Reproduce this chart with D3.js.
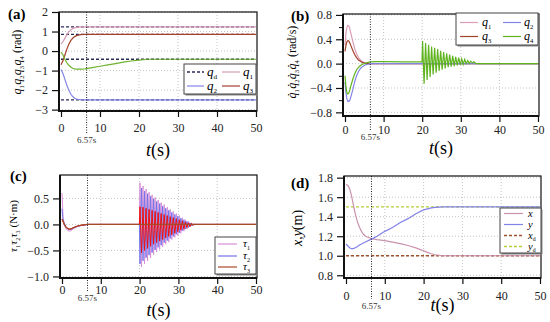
<!DOCTYPE html>
<html>
<head>
<meta charset="utf-8">
<script src="https://cdn.jsdelivr.net/npm/d3@7"></script>
<style>
  body { margin: 0; background: #fff; }
  svg { display: block; font-family: "Liberation Serif", "Times New Roman", serif; }
</style>
</head>
<body>
<script>
// ---- data ----
const xTicks = [0, 10, 20, 30, 40, 50];
const tMark = 6.57;

// (a) joint angles
const tA = [0, 0.5, 1, 1.5, 2, 2.5, 3, 3.5, 4, 4.5, 5, 6, 6.57, 8, 10, 12, 14, 16, 18, 20, 22, 25, 30, 40, 50];
const q1 = [0.35, 0.48, 0.66, 0.84, 0.98, 1.08, 1.15, 1.19, 1.21, 1.23, 1.24, 1.24, 1.24, 1.24, 1.24, 1.24, 1.24, 1.24, 1.24, 1.24, 1.24, 1.24, 1.24, 1.24, 1.24];
const q2 = [-0.95, -1.15, -1.45, -1.75, -2.0, -2.2, -2.33, -2.42, -2.46, -2.48, -2.49, -2.5, -2.5, -2.5, -2.5, -2.5, -2.5, -2.5, -2.5, -2.5, -2.5, -2.5, -2.5, -2.5, -2.5];
const q3 = [-0.7, -0.5, -0.2, 0.1, 0.35, 0.53, 0.66, 0.74, 0.79, 0.82, 0.84, 0.85, 0.85, 0.85, 0.85, 0.85, 0.85, 0.85, 0.85, 0.85, 0.85, 0.85, 0.85, 0.85, 0.85];
const q4 = [-0.05, -0.2, -0.42, -0.6, -0.73, -0.82, -0.88, -0.91, -0.93, -0.93, -0.93, -0.92, -0.9, -0.85, -0.78, -0.71, -0.64, -0.57, -0.51, -0.46, -0.42, -0.42, -0.42, -0.42, -0.42];
const qd = [1.24, 0.85, -0.42, -2.5];
const yTicksA = [2, 1, 0, -1, -2, -3];

// (b) joint velocities
const tB = [0, 0.25, 0.5, 0.75, 1, 1.25, 1.5, 2, 2.5, 3, 3.5, 4, 4.5, 5, 5.5, 6, 6.57, 8, 10, 15, 19.95];
const dq1 = [0.3, 0.5, 0.6, 0.63, 0.62, 0.57, 0.5, 0.37, 0.25, 0.16, 0.1, 0.06, 0.03, 0.02, 0.01, 0.005, 0, 0, 0, 0, 0];
const dq2 = [-0.3, -0.48, -0.58, -0.62, -0.62, -0.6, -0.55, -0.43, -0.3, -0.2, -0.13, -0.08, -0.05, -0.03, -0.015, -0.01, 0, 0, 0, 0, 0];
const dq3 = [0.2, 0.3, 0.36, 0.38, 0.37, 0.34, 0.3, 0.22, 0.15, 0.1, 0.06, 0.04, 0.02, 0.01, 0.005, 0, 0, 0, 0, 0, 0];
const dq4 = [-0.2, -0.38, -0.48, -0.5, -0.48, -0.43, -0.37, -0.26, -0.17, -0.1, -0.06, -0.03, -0.01, 0, 0.01, 0.02, 0.03, 0.033, 0.033, 0.03, 0.03];
// q4 oscillation extremes after t = 20
const dq4Osc = [0.37, -0.33, 0.34, -0.27, 0.31, -0.22, 0.28, -0.18, 0.26, -0.15, 0.24, -0.12, 0.21, -0.10, 0.19, -0.08, 0.17, -0.06,
                0.15, -0.05, 0.13, -0.04, 0.11, -0.03, 0.10, -0.02, 0.08, -0.01, 0.07, 0.00, 0.05, 0.00, 0.04, 0.01, 0.03, 0.01];
const yTicksB = [0.8, 0.4, 0.0, -0.4, -0.8];

// (c) joint torques
const tC = [0, 0.15, 0.3, 0.6, 1, 1.5, 2, 2.5, 3, 4, 5, 6, 6.57, 19.95];
const tau1 = [0.6, 0.35, 0.12, 0.0, -0.08, -0.12, -0.13, -0.11, -0.08, -0.04, -0.02, -0.01, 0, 0];
const tau2 = [0.3, 0.15, 0.08, 0.02, -0.05, -0.09, -0.1, -0.09, -0.07, -0.04, -0.02, -0.01, 0, 0];
const tau3 = [0.1, 0.08, 0.05, 0.0, -0.05, -0.08, -0.09, -0.08, -0.06, -0.03, -0.015, -0.005, 0, 0];
const tau1Osc = [0.80, -0.82, 0.74, -0.76, 0.68, -0.70, 0.62, -0.64, 0.57, -0.58, 0.52, -0.53, 0.47, -0.48, 0.42, -0.43, 0.38, -0.38,
                 0.33, -0.34, 0.29, -0.29, 0.25, -0.25, 0.21, -0.21, 0.17, -0.17, 0.13, -0.13, 0.09, -0.09, 0.06, -0.05, 0.03, -0.02];
const tau2Osc = [-0.76, 0.70, -0.70, 0.64, -0.64, 0.59, -0.59, 0.54, -0.54, 0.49, -0.49, 0.44, -0.44, 0.40, -0.40, 0.35, -0.35, 0.31,
                 -0.31, 0.27, -0.27, 0.23, -0.23, 0.19, -0.19, 0.16, -0.16, 0.12, -0.12, 0.09, -0.09, 0.06, -0.06, 0.03, -0.03, 0.01];
const tau3Osc = [0.34, -0.55, 0.33, -0.50, 0.31, -0.46, 0.29, -0.42, 0.27, -0.38, 0.25, -0.35, 0.23, -0.32, 0.21, -0.29, 0.19, -0.26,
                 0.17, -0.23, 0.15, -0.20, 0.13, -0.17, 0.11, -0.14, 0.09, -0.11, 0.07, -0.09, 0.05, -0.06, 0.03, -0.04, 0.02, -0.02];
const yTicksC = [0.5, 0.0, -0.5, -1.0];

// (d) end-effector position
const tD = [0, 0.5, 1, 1.5, 2, 2.5, 3, 3.5, 4, 4.5, 5, 6, 6.57, 8, 10, 12, 14, 16, 18, 20, 21, 22, 23, 25, 30, 50];
const xPos = [1.73, 1.72, 1.68, 1.6, 1.5, 1.41, 1.34, 1.29, 1.25, 1.22, 1.2, 1.185, 1.175, 1.165, 1.155, 1.14, 1.125, 1.105, 1.08, 1.05, 1.035, 1.02, 1.01, 1.0, 1.0, 1.0];
const yPos = [1.12, 1.1, 1.08, 1.07, 1.075, 1.085, 1.095, 1.11, 1.12, 1.13, 1.14, 1.16, 1.17, 1.2, 1.25, 1.29, 1.34, 1.38, 1.43, 1.47, 1.48, 1.49, 1.495, 1.5, 1.5, 1.5];
const xd = 1.0, yd = 1.5;
const yTicksD = [1.8, 1.6, 1.4, 1.2, 1.0, 0.8];

const oscStart = 20.1, oscStep = 0.39, oscEnd = 34.0;

// ---- drawing ----
const svg = d3.select("body").append("svg").attr("width", 550).attr("height", 322);
const defs = svg.append("defs");

// build [t, v] pairs; oscillation extremes are placed one half period apart
function series(ts, vs, osc) {
  const pts = ts.map((t, i) => [t, vs[i]]);
  if (osc) {
    osc.forEach((v, i) => pts.push([oscStart + i * oscStep, v]));
    pts.push([oscEnd, 0]);
  }
  if (pts[pts.length - 1][0] < 50) pts.push([50, pts[pts.length - 1][1]]);
  return pts;
}

function panel(p) {
  const x = d3.scaleLinear().domain([0, 50]).range(p.xr);
  const y = d3.scaleLinear().domain(p.yd).range([p.fb, p.ft]);
  const g = svg.append("g");

  g.append("g").selectAll("line").data([10, 20, 30, 40]).join("line")
    .attr("x1", d => x(d)).attr("x2", d => x(d)).attr("y1", p.ft).attr("y2", p.fb)
    .attr("stroke", "#c4c4c4").attr("stroke-dasharray", "1,2");
  g.append("g").selectAll("line").data(p.yticks).join("line")
    .attr("x1", p.fl).attr("x2", p.fr).attr("y1", d => y(d)).attr("y2", d => y(d))
    .attr("stroke", "#c4c4c4").attr("stroke-dasharray", "1,2");

  const id = "clip" + p.key;
  defs.append("clipPath").attr("id", id).append("rect")
    .attr("x", p.fl).attr("y", p.ft).attr("width", p.fr - p.fl).attr("height", p.fb - p.ft);
  const plot = g.append("g").attr("clip-path", `url(#${id})`);

  // marker at 6.57 s
  g.append("line").attr("x1", x(tMark)).attr("x2", x(tMark)).attr("y1", p.ft).attr("y2", p.markY - 7)
    .attr("stroke", "#222").attr("stroke-dasharray", "1,1.5");
  g.append("text").attr("x", x(tMark)).attr("y", p.markY + 3).attr("text-anchor", "middle")
    .attr("font-size", 9).attr("fill", "#333").text("6.57s");

  // axes
  const ax = g.append("g").attr("transform", `translate(0,${p.fb})`)
    .call(d3.axisBottom(x).tickValues(xTicks).tickSize(6).tickPadding(p.xPad).tickFormat(d3.format("d")));
  const ay = g.append("g").attr("transform", `translate(${p.fl},0)`)
    .call(d3.axisLeft(y).tickValues(p.yticks).tickSize(7).tickPadding(4).tickFormat(p.fmt));
  if (p.minor) {
    g.append("g").attr("transform", `translate(${p.fl},0)`)
      .call(d3.axisLeft(y).tickValues(p.minor).tickSize(4).tickFormat(""))
      .call(s => s.select(".domain").remove())
      .call(s => s.selectAll("line").attr("stroke", "#111"));
  }
  [ax, ay].forEach(a => {
    a.select(".domain").remove();
    a.selectAll("text").attr("font-size", 12).style("font-family", "'Liberation Serif', serif").attr("fill", "#222");
    a.selectAll("line").attr("stroke", "#111").attr("stroke-width", 1.2);
  });

  g.append("rect").attr("x", p.fl).attr("y", p.ft).attr("width", p.fr - p.fl).attr("height", p.fb - p.ft)
    .attr("fill", "none").attr("stroke", "#111").attr("stroke-width", 1.2);
  g.append("line").attr("x1", p.fl).attr("x2", p.fl).attr("y1", p.ft).attr("y2", p.fb + 1)
    .attr("stroke", "#111").attr("stroke-width", 2);
  g.append("line").attr("x1", p.fl).attr("x2", p.fr).attr("y1", p.fb).attr("y2", p.fb)
    .attr("stroke", "#111").attr("stroke-width", 2);

  // t(s)
  const tl = g.append("text").attr("x", (p.fl + p.fr) / 2).attr("y", p.tY).attr("text-anchor", "middle").attr("font-size", 18);
  tl.append("tspan").attr("font-style", "italic").text("t");
  tl.append("tspan").text("(s)");

  // panel tag
  g.append("text").attr("x", p.tag[0]).attr("y", p.tag[1]).attr("font-size", 15).attr("font-weight", "bold").text(p.name);

  const line = d3.line().x(d => x(d[0])).y(d => y(d[1]));
  return { x, y, g, plot, line };
}

function drawLine(P, pts, color, dash, w) {
  P.plot.append("path").datum(pts).attr("d", P.line).attr("fill", "none")
    .attr("stroke", color).attr("stroke-width", w || 1.2).attr("stroke-dasharray", dash || null);
}

// rich label with subscripts: parts = [[base, sub, italic], ...]
function rich(sel, parts, size) {
  parts.forEach(([b, s, it]) => {
    if (b) sel.append("tspan").attr("font-style", it ? "italic" : null).text(b);
    if (s) {
      sel.append("tspan").attr("dy", size * 0.25).attr("font-size", size * 0.55).text(s);
      sel.append("tspan").attr("dy", -size * 0.25).attr("font-size", size * 0.3).text("\u200a");
    }
  });
}

function legend(g, box, items, size) {
  g.append("rect").attr("x", box[0] + 1.5).attr("y", box[1] + 1.5).attr("width", box[2] - box[0]).attr("height", box[3] - box[1])
    .attr("fill", "#888");
  g.append("rect").attr("x", box[0]).attr("y", box[1]).attr("width", box[2] - box[0]).attr("height", box[3] - box[1])
    .attr("fill", "#fff").attr("stroke", "#444").attr("stroke-width", 1);
  items.forEach(it => {
    g.append("line").attr("x1", it.x1).attr("x2", it.x2).attr("y1", it.y).attr("y2", it.y)
      .attr("stroke", it.color).attr("stroke-width", it.dash ? 1.6 : 1.2).attr("stroke-dasharray", it.dash || null);
    const t = g.append("text").attr("x", it.lx).attr("y", it.y + size * 0.3).attr("font-size", size);
    rich(t, it.label, size);
  });
}

// ---------- (a) ----------
const A = panel({ key: "a", name: "(a)", fl: 59, fr: 257, ft: 12, fb: 111, xr: [61, 256], yd: [-3.07, 2], yticks: yTicksA,
  fmt: d3.format("d"), xPad: 6, markY: 140, tY: 156, tag: [8, 19] });
qd.forEach(v => drawLine(A, [[0, v], [50, v]], "#2a2a58", "3,2", 1.3));
drawLine(A, series(tA, q1), "#d99cb6");
drawLine(A, series(tA, q2), "#8484e4");
drawLine(A, series(tA, q3), "#a3402a");
drawLine(A, series(tA, q4), "#6db32d");
legend(A.g, [184, 64, 256, 94], [
  { x1: 187, x2: 204, y: 72, color: "#2a2a58", dash: "3,2", lx: 207, label: [["q", "d", true]] },
  { x1: 222, x2: 240, y: 72, color: "#d99cb6", lx: 243, label: [["q", "1", true]] },
  { x1: 187, x2: 204, y: 86, color: "#8484e4", lx: 207, label: [["q", "2", true]] },
  { x1: 222, x2: 240, y: 86, color: "#a3402a", lx: 243, label: [["q", "3", true]] }
], 13);
const ylA = A.g.append("text").attr("transform", "translate(21,62) rotate(-90)").attr("text-anchor", "middle").attr("font-size", 12);
rich(ylA, [["q", "1", true], ["q", "2", true], ["q", "3", true], ["q", "4", true], [" (rad)", null]], 12);

// ---------- (b) ----------
const B = panel({ key: "b", name: "(b)", fl: 343, fr: 539, ft: 14, fb: 116, xr: [345, 538], yd: [-0.86, 0.815], yticks: yTicksB,
  fmt: d3.format(".1f"), xPad: 3, markY: 137, tY: 154, tag: [291, 21],
  minor: [0.6, 0.2, -0.2, -0.6] });
drawLine(B, series(tB, dq1), "#d99cb6");
drawLine(B, series(tB, dq3), "#a3402a");
drawLine(B, series(tB, dq2), "#8484e4");
drawLine(B, series(tB, dq4, dq4Osc), "#5fb31f");
legend(B.g, [456, 13, 538, 45], [
  { x1: 460, x2: 478, y: 22.5, color: "#d99cb6", lx: 482, label: [["q", "1", true]] },
  { x1: 503, x2: 521, y: 22.5, color: "#8484e4", lx: 524, label: [["q", "2", true]] },
  { x1: 460, x2: 478, y: 36.5, color: "#a3402a", lx: 482, label: [["q", "3", true]] },
  { x1: 503, x2: 521, y: 36.5, color: "#5fb31f", lx: 524, label: [["q", "4", true]] }
], 12);
const ylB = B.g.append("text").attr("transform", "translate(296,62) rotate(-90)").attr("text-anchor", "middle").attr("font-size", 12);
rich(ylB, [["q\u0307", "1", true], ["q\u0307", "2", true], ["q\u0307", "3", true], ["q\u0307", "4", true], [" (rad/s)", null]], 12);

// ---------- (c) ----------
const C = panel({ key: "c", name: "(c)", fl: 60, fr: 257, ft: 175, fb: 278, xr: [62, 256], yd: [-1.03, 0.95], yticks: yTicksC,
  fmt: d3.format(".1f"), xPad: 1, markY: 298, tY: 316, tag: [10, 181] });
drawLine(C, series(tC, tau1, tau1Osc), "#d890d8", null, 1);
drawLine(C, series(tC, tau2, tau2Osc), "#7474ea", null, 1);
drawLine(C, series(tC, tau3, tau3Osc), "#ee1010", null, 1);
drawLine(C, series(tC, tau3), "#a84a28", null, 1.2);
legend(C.g, [215, 237, 256, 274], [
  { x1: 218, x2: 237, y: 244, color: "#d890d8", lx: 243, label: [["\u03c4", "1", true]] },
  { x1: 218, x2: 237, y: 256, color: "#7474ea", lx: 243, label: [["\u03c4", "2", true]] },
  { x1: 218, x2: 237, y: 267, color: "#a84a28", lx: 243, label: [["\u03c4", "3", true]] }
], 11);
const ylC = C.g.append("text").attr("transform", "translate(17,226) rotate(-90)").attr("text-anchor", "middle").attr("font-size", 11);
rich(ylC, [["\u03c4", "1", true], ["\u03c4", "2", true], ["\u03c4", "3", true], [" (N\u00b7m)", null]], 11);

// ---------- (d) ----------
const D = panel({ key: "d", name: "(d)", fl: 344, fr: 541, ft: 176, fb: 278, xr: [346, 540], yd: [0.772, 1.817], yticks: yTicksD,
  fmt: d3.format(".1f"), xPad: 7, markY: 306, tY: 311, tag: [291, 188] });
drawLine(D, [[0, xd], [50, xd]], "#a0522d", "3,2", 1.3);
drawLine(D, [[0, yd], [50, yd]], "#b2d03c", "3,2", 1.3);
drawLine(D, series(tD, xPos), "#c992ad");
drawLine(D, series(tD, yPos), "#8282e8");
legend(D.g, [500, 208, 541, 253], [
  { x1: 504, x2: 523, y: 213.5, color: "#c992ad", lx: 528, label: [["x", null, true]] },
  { x1: 504, x2: 523, y: 224.5, color: "#8282e8", lx: 528, label: [["y", null, true]] },
  { x1: 504, x2: 523, y: 235.5, color: "#a0522d", dash: "3,2", lx: 528, label: [["x", "d", true]] },
  { x1: 504, x2: 523, y: 246.5, color: "#b2d03c", dash: "3,2", lx: 528, label: [["y", "d", true]] }
], 10.5);
const ylD = D.g.append("text").attr("transform", "translate(302,228) rotate(-90)").attr("text-anchor", "middle").attr("font-size", 14);
rich(ylD, [["x", null, true], [",", null], ["y", null, true], ["(m)", null]], 14);
</script>
</body>
</html>
